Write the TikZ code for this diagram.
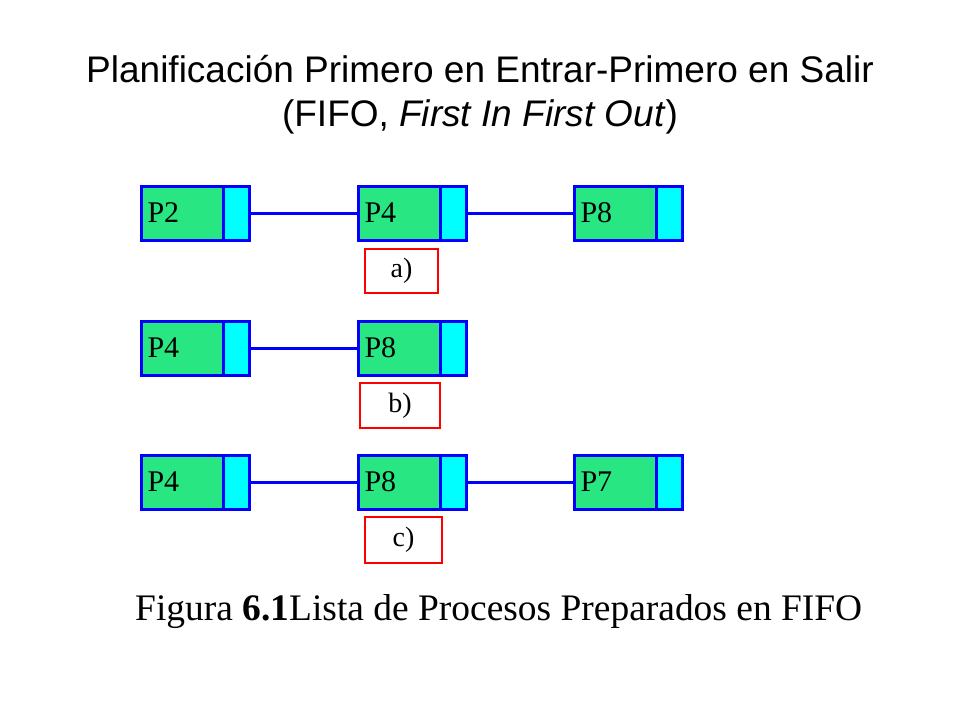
\documentclass[tikz,border=0pt]{standalone}
\usepackage{fontspec}
\setmainfont{Liberation Serif}
\newfontfamily\titlefont{Liberation Sans}
\definecolor{cellgreen}{RGB}{40,230,130}
\definecolor{ptrcyan}{RGB}{0,255,255}
\definecolor{linkblue}{RGB}{0,0,255}
\definecolor{labred}{RGB}{255,0,0}
\begin{document}
\begin{tikzpicture}[x=1pt,y=-1pt,
  cell/.style={draw=linkblue,line width=3pt,fill=cellgreen,minimum width=82pt,minimum height=54pt,inner sep=0pt,anchor=west,font=\fontsize{30}{30}\selectfont,text width=80pt,align=left},
  ptr/.style={draw=linkblue,line width=3pt,fill=ptrcyan,minimum width=26pt,minimum height=54pt,inner sep=0pt,anchor=west},
  link/.style={draw=linkblue,line width=3pt},
  lab/.style={draw=labred,line width=1.2pt,inner sep=0pt,font=\fontsize{28}{28}\selectfont}]
\useasboundingbox (0,0) rectangle (960,720);
\node[font=\titlefont\fontsize{37}{44}\selectfont,align=center] (title) at (480,95) {Planificación Primero en Entrar-Primero en Salir\\(FIFO, \textit{First In First Out})};
\node[cell] (a1) at (140,213) {\,P2}; \node[ptr] (a1p) at (222,213) {};
\node[cell] (a2) at (357,213) {\,P4}; \node[ptr] (a2p) at (439,213) {};
\node[cell] (a3) at (573,213) {\,P8}; \node[ptr] (a3p) at (655,213) {};
\node[cell] (b1) at (140,348) {\,P4}; \node[ptr] (b1p) at (222,348) {};
\node[cell] (b2) at (357,348) {\,P8}; \node[ptr] (b2p) at (439,348) {};
\node[cell] (c1) at (140,482) {\,P4}; \node[ptr] (c1p) at (222,482) {};
\node[cell] (c2) at (357,482) {\,P8}; \node[ptr] (c2p) at (439,482) {};
\node[cell] (c3) at (573,482) {\,P7}; \node[ptr] (c3p) at (655,482) {};
\draw[link] (a1p.east) -- (a2.west);
\draw[link] (a2p.east) -- (a3.west);
\draw[link] (b1p.east) -- (b2.west);
\draw[link] (c1p.east) -- (c2.west);
\draw[link] (c2p.east) -- (c3.west);
\node[lab,minimum width=73pt,minimum height=44pt] (la) at (401.5,271) {a)};
\node[lab,minimum width=80pt,minimum height=45pt] (lb) at (400,405.5) {b)};
\node[lab,minimum width=77pt,minimum height=46pt] (lc) at (403.5,540) {c)};
\node[anchor=west,inner sep=0pt] (cap) at (135,612) {\resizebox{727pt}{!}{\fontsize{27}{27}\selectfont Figura \textbf{6.1}Lista de Procesos Preparados en FIFO}};
\end{tikzpicture}
\end{document}
